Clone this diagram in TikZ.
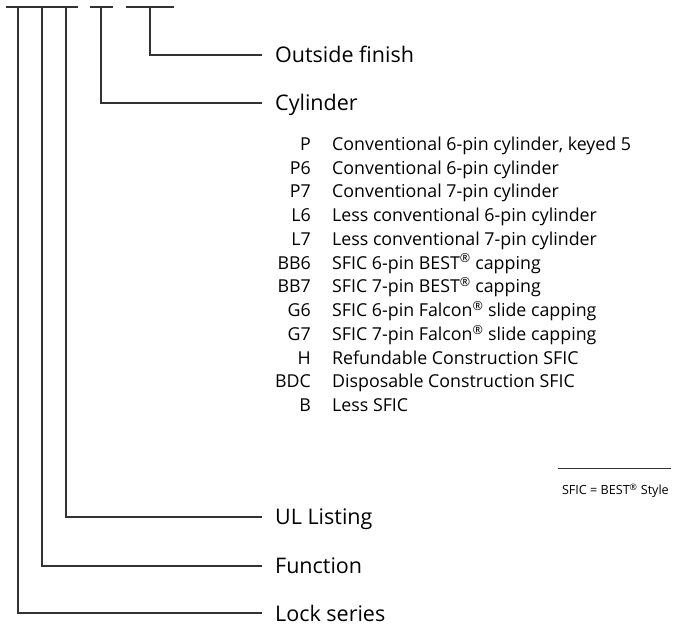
\documentclass[tikz,border=0pt]{standalone}
\usepackage{fontspec}
\setmainfont{Open Sans}
\newcommand{\regm}{\textsuperscript{\textregistered}}
\begin{document}
\begin{tikzpicture}[x=1pt,y=-1pt,
  rule/.style={line width=1.2pt, draw=black!80},
  lbl/.style={anchor=base west, inner sep=0pt, font=\fontsize{21.5}{25}\selectfont},
  code/.style={anchor=base east, inner sep=0pt, font=\fontsize{17.8}{21}\selectfont},
  desc/.style={anchor=base west, inner sep=0pt, font=\fontsize{17.8}{21}\selectfont}]
\useasboundingbox (0,0) rectangle (681,628);
% top bars
\coordinate (b1s) at (6,7);   \coordinate (b1e) at (78,7);
\coordinate (b2s) at (90,7);  \coordinate (b2e) at (113,7);
\coordinate (b3s) at (126,7); \coordinate (b3e) at (174,7);
\coordinate (t1) at (18,7);  \coordinate (t2) at (42,7);  \coordinate (t3) at (66,7);
\coordinate (t4) at (101,7); \coordinate (t5) at (150,7);
\draw[rule] (b1s) -- (b1e);
\draw[rule] (b2s) -- (b2e);
\draw[rule] (b3s) -- (b3e);
% labels
\node[lbl] (outside) at (275,63) {Outside finish};
\node[lbl] (cyl) at (275,111) {Cylinder};
\node[lbl] (ul) at (275,525) {UL Listing};
\node[lbl] (func) at (275,574) {Function};
\node[lbl] (lock) at (275,621) {Lock series};
\coordinate (e5) at (262,55);
\coordinate (e4) at (262,103);
\coordinate (e3) at (262,517);
\coordinate (e2) at (262,566);
\coordinate (e1) at (262,613);
\draw[rule] (t5) |- (e5);
\draw[rule] (t4) |- (e4);
\draw[rule] (t3) |- (e3);
\draw[rule] (t2) |- (e2);
\draw[rule] (t1) |- (e1);
% items
\foreach \c/\d [count=\i from 0] in {
  P/{Conventional 6-pin cylinder, keyed 5},
  P6/{Conventional 6-pin cylinder},
  P7/{Conventional 7-pin cylinder},
  L6/{Less conventional 6-pin cylinder},
  L7/{Less conventional 7-pin cylinder},
  BB6/{SFIC 6-pin BEST\regm\ capping},
  BB7/{SFIC 7-pin BEST\regm\ capping},
  G6/{SFIC 6-pin Falcon\regm\ slide capping},
  G7/{SFIC 7-pin Falcon\regm\ slide capping},
  H/{Refundable Construction SFIC},
  BDC/{Disposable Construction SFIC},
  B/{Less SFIC}} {
  \node[code] (c\i) at (311,{150.5+23.73*\i}) {\c};
  \node[desc] (d\i) at (332,{150.5+23.73*\i}) {\d};
}
% note
\coordinate (n1) at (558,468);
\coordinate (n2) at (671,468);
\draw[line width=0.9pt, draw=black!80] (n1) -- (n2);
\node[anchor=base east, inner sep=0pt, font=\fontsize{12.6}{15}\selectfont] (note) at (669,495) {SFIC = BEST\regm\ Style};
\end{tikzpicture}
\end{document}
